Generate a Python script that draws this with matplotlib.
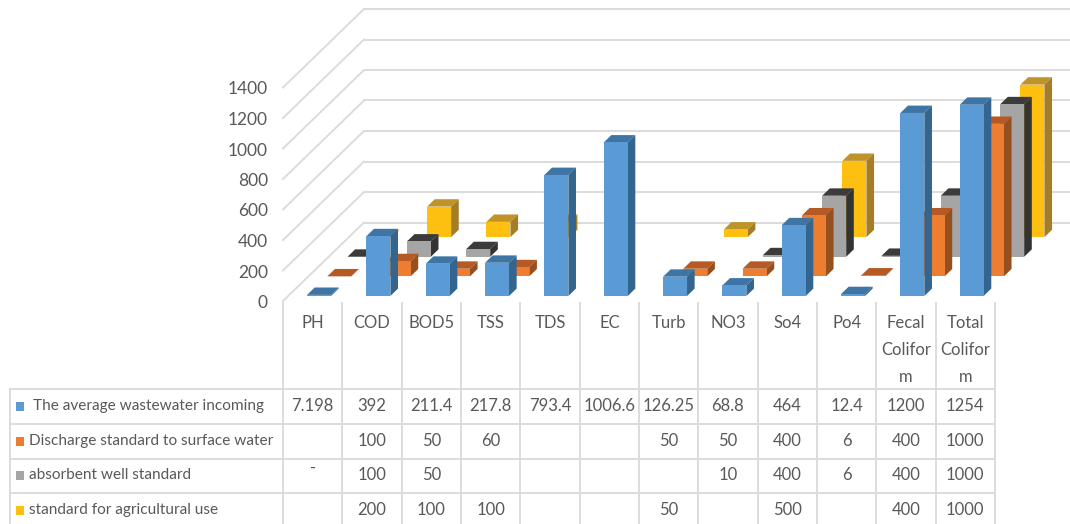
import numpy as np
import matplotlib
matplotlib.use("Agg")
import matplotlib.pyplot as plt

plt.rcParams['font.family'] = ['Lato', 'DejaVu Sans']

# water quality parameters, one column per parameter
categories = ['PH', 'COD', 'BOD5', 'TSS', 'TDS', 'EC', 'Turb', 'NO3', 'So4', 'Po4',
              'Fecal\nColifor\nm', 'Total\nColifor\nm']
series_names = ['The average wastewater incoming', 'Discharge standard to surface water',
                'absorbent well standard', 'standard for agricultural use']
# None = no bar and empty cell, 0 = flat bar and empty cell
incoming = [7.198, 392, 211.4, 217.8, 793.4, 1006.6, 126.25, 68.8, 464, 12.4, 1200, 1254]
surface = [0, 100, 50, 60, None, None, 50, 50, 400, 6, 400, 1000]
well = [0, 100, 50, None, None, None, None, 10, 400, 6, 400, 1000]
agri = [0, 200, 100, 100, None, None, 50, None, 500, None, 400, 1000]
y_ticks = [0, 200, 400, 600, 800, 1000, 1200, 1400]

front_colors = ['#5b9bd5', '#ed7d31', '#a5a5a5', '#fdc010']
top_colors = ['#3f75a5', '#b55a24', '#3b3b3b', '#bf9328']
side_colors = ['#33658e', '#96501f', '#333333', '#a47d25']
grid_color = '#dcdcdc'
text_color = '#595959'

W, H = 1070, 524
# pixel scale of the front plane
left_px, zero_px = 283, 301
cat_px, val_px = 59.33, 0.1525
# oblique depth: full floor depth in categories and value units
depth_x, depth_y = 81 / cat_px, 78.5 / val_px
bar_w = 24 / cat_px
slot_d = 0.25
bar_d = 0.094
first_d = 0.064
bar_shift = 1.2 / cat_px
label_size = 12
legend_size = 11.1


def project(c, v, d):
    return c + depth_x * d, v + depth_y * d


def draw_bar(ax, k, s, value):
    c0 = k + (1 - bar_w) / 2 + bar_shift
    c1 = c0 + bar_w
    d0 = first_d + s * slot_d
    d1 = d0 + bar_d
    faces = [
        ([(c0, value, d0), (c1, value, d0), (c1, value, d1), (c0, value, d1)], top_colors[s]),
        ([(c1, 0, d0), (c1, value, d0), (c1, value, d1), (c1, 0, d1)], side_colors[s]),
        ([(c0, 0, d0), (c1, 0, d0), (c1, value, d0), (c0, value, d0)], front_colors[s]),
    ]
    for pts, color in faces:
        xy = np.array([project(*p) for p in pts])
        ax.fill(xy[:, 0], xy[:, 1], color=color, lw=0, zorder=3 + (3 - s))


fig = plt.figure(figsize=(W / 100, H / 100), dpi=100)
ax = fig.add_axes([0, 0, 1, 1])
ax.axis('off')

all_series = [incoming, surface, well, agri]

# walls
right_end = (W - left_px) / cat_px
for t in y_ticks:
    bx, by = project(0, t, 1)
    ax.plot([0, bx], [t, by], color=grid_color, lw=1.4, zorder=1)
    ax.plot([bx, right_end], [by, by], color=grid_color, lw=1.4, zorder=1)
    ax.text(-15 / cat_px, t - 2 / val_px, str(t), ha='right', va='center',
            fontsize=12.5, color=text_color)

# back series first
for s in range(3, -1, -1):
    for k, value in enumerate(all_series[s]):
        if value is not None:
            draw_bar(ax, k, s, value)

ax.set_xlim(-left_px / cat_px, (W - left_px) / cat_px)
ax.set_ylim((zero_px - H) / val_px, zero_px / val_px)

# data table drawn in pixel coordinates
tab = fig.add_axes([0, 0, 1, 1])
tab.axis('off')
tab.patch.set_alpha(0)
tab.set_xlim(0, W)
tab.set_ylim(H, 0)

col_edges = [left_px + cat_px * k for k in range(len(categories) + 1)]
row_edges = [389, 424, 459, 493]
row_mid = [406, 441, 475, 510]
for x in col_edges:
    tab.plot([x, x], [303, H], color=grid_color, lw=1.4)
tab.plot([10, 10], [row_edges[0], H], color=grid_color, lw=1.4)
for y in row_edges:
    tab.plot([10, col_edges[-1]], [y, y], color=grid_color, lw=1.4)

for k, name in enumerate(categories):
    cx = col_edges[k] + cat_px / 2
    for j, line in enumerate(name.split('\n')):
        tab.text(cx, 323 + j * 27, line, ha='center', va='center', fontsize=label_size, color=text_color)

name_x = [33, 29, 29, 29]
for s, name in enumerate(series_names):
    tab.add_patch(plt.Rectangle((15.5, row_mid[s] - 4.5), 8.5, 9, color=front_colors[s], lw=0))
    tab.text(name_x[s], row_mid[s], name, ha='left', va='center', fontsize=legend_size, color=text_color)
    for k, value in enumerate(all_series[s]):
        if value:
            tab.text(col_edges[k] + cat_px / 2, row_mid[s], '{:g}'.format(value), ha='center',
                     va='center', fontsize=label_size, color=text_color)
tab.text(col_edges[0] + cat_px / 2, 468, '-', ha='center', va='center', fontsize=label_size, color=text_color)

fig.savefig('out.png', dpi=100)
